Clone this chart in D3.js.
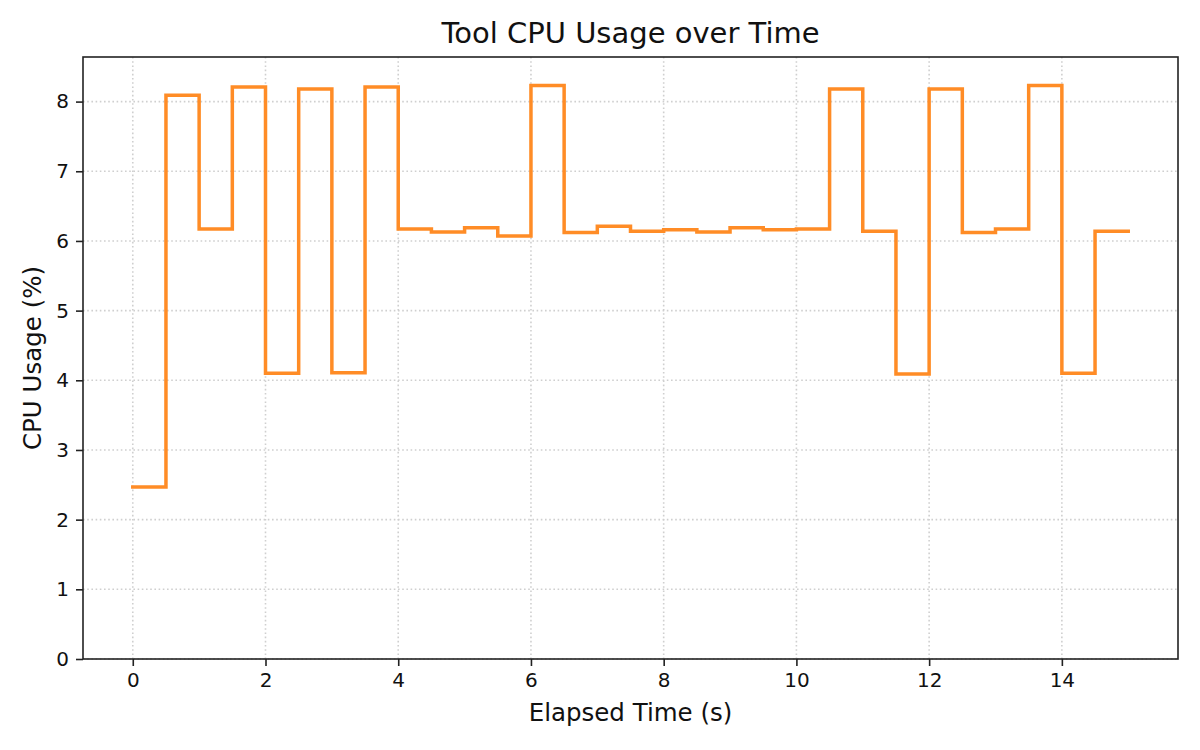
<!DOCTYPE html>
<html>
<head>
<meta charset="utf-8">
<script src="https://cdn.jsdelivr.net/npm/d3@7"></script>
<style>
  html, body { margin: 0; padding: 0; background: #fff; }
  svg { display: block; font-family: "DejaVu Sans", sans-serif; }
</style>
</head>
<body>
<svg id="chart" width="1200" height="750"></svg>
<script>
// Data
const elapsedTime = [0, 0.5, 1, 1.5, 2, 2.5, 3, 3.5, 4, 4.5, 5, 5.5, 6, 6.5, 7, 7.5,
                     8, 8.5, 9, 9.5, 10, 10.5, 11, 11.5, 12, 12.5, 13, 13.5, 14, 14.5, 15];
const cpuUsage = [2.47, 8.09, 6.17, 8.21, 4.10, 8.18, 4.11, 8.21, 6.17, 6.13, 6.19, 6.07,
                  8.23, 6.12, 6.21, 6.14, 6.16, 6.13, 6.19, 6.16, 6.17, 8.18, 6.14, 4.09,
                  8.18, 6.12, 6.17, 8.23, 4.10, 6.14, 6.14];
const xTicks = [0, 2, 4, 6, 8, 10, 12, 14];
const yTicks = [0, 1, 2, 3, 4, 5, 6, 7, 8];
const titleText = "Tool CPU Usage over Time";
const xLabelText = "Elapsed Time (s)";
const yLabelText = "CPU Usage (%)";

(function () {
  const svg = d3.select("#chart");
  const mLeft = 83, mRight = 1178, mTop = 57, mBottom = 659;

  const x = d3.scaleLinear().domain([-0.75, 15.75]).range([mLeft, mRight]);
  const y = d3.scaleLinear().domain([0, 8.64]).range([mBottom, mTop]);

  // Grid
  const grid = svg.append("g");
  grid.selectAll("line.gx").data(xTicks).enter().append("line")
    .attr("class", "gx")
    .attr("x1", d => x(d)).attr("x2", d => x(d))
    .attr("y1", mTop).attr("y2", mBottom)
    .attr("stroke", "#cfcfcf").attr("stroke-width", 1.6)
    .attr("stroke-dasharray", "1.6,2.6");
  grid.selectAll("line.gy").data(yTicks).enter().append("line")
    .attr("class", "gy")
    .attr("x1", mLeft).attr("x2", mRight)
    .attr("y1", d => y(d)).attr("y2", d => y(d))
    .attr("stroke", "#cfcfcf").attr("stroke-width", 1.6)
    .attr("stroke-dasharray", "1.6,2.6");

  // Step line
  const data = elapsedTime.map((t, i) => ({ t, v: cpuUsage[i] }));
  const line = d3.line().x(d => x(d.t)).y(d => y(d.v)).curve(d3.curveStepAfter);
  svg.append("path").datum(data)
    .attr("d", line)
    .attr("fill", "none")
    .attr("stroke", "#ff8c26")
    .attr("stroke-width", 3.5)
    .attr("stroke-linejoin", "miter")
    .attr("stroke-linecap", "square");

  // Axes
  const xAxis = d3.axisBottom(x).tickValues(xTicks).tickSize(7).tickPadding(7).tickFormat(d3.format("d"));
  const yAxis = d3.axisLeft(y).tickValues(yTicks).tickSize(7).tickPadding(7).tickFormat(d3.format("d"));

  const gx = svg.append("g").attr("transform", `translate(0,${mBottom})`).call(xAxis);
  const gy = svg.append("g").attr("transform", `translate(${mLeft},0)`).call(yAxis);
  [gx, gy].forEach(g => {
    g.select(".domain").remove();
    g.selectAll(".tick line").attr("stroke", "#222").attr("stroke-width", 1.6);
    g.selectAll(".tick text").attr("fill", "#111").style("font-size", "20px")
      .style("font-family", "DejaVu Sans, sans-serif");
  });

  // Frame
  svg.append("rect")
    .attr("x", mLeft).attr("y", mTop)
    .attr("width", mRight - mLeft).attr("height", mBottom - mTop)
    .attr("fill", "none").attr("stroke", "#222").attr("stroke-width", 1.6);

  // Title and labels
  svg.append("text")
    .attr("x", (mLeft + mRight) / 2).attr("y", 43)
    .attr("text-anchor", "middle")
    .style("font-size", "29px").attr("fill", "#111")
    .text(titleText);

  svg.append("text")
    .attr("x", (mLeft + mRight) / 2).attr("y", 721)
    .attr("text-anchor", "middle")
    .style("font-size", "24.5px").attr("fill", "#111")
    .text(xLabelText);

  svg.append("text")
    .attr("transform", `translate(41,${(mTop + mBottom) / 2}) rotate(-90)`)
    .attr("text-anchor", "middle")
    .style("font-size", "24.5px").attr("fill", "#111")
    .text(yLabelText);
})();
</script>
</body>
</html>
